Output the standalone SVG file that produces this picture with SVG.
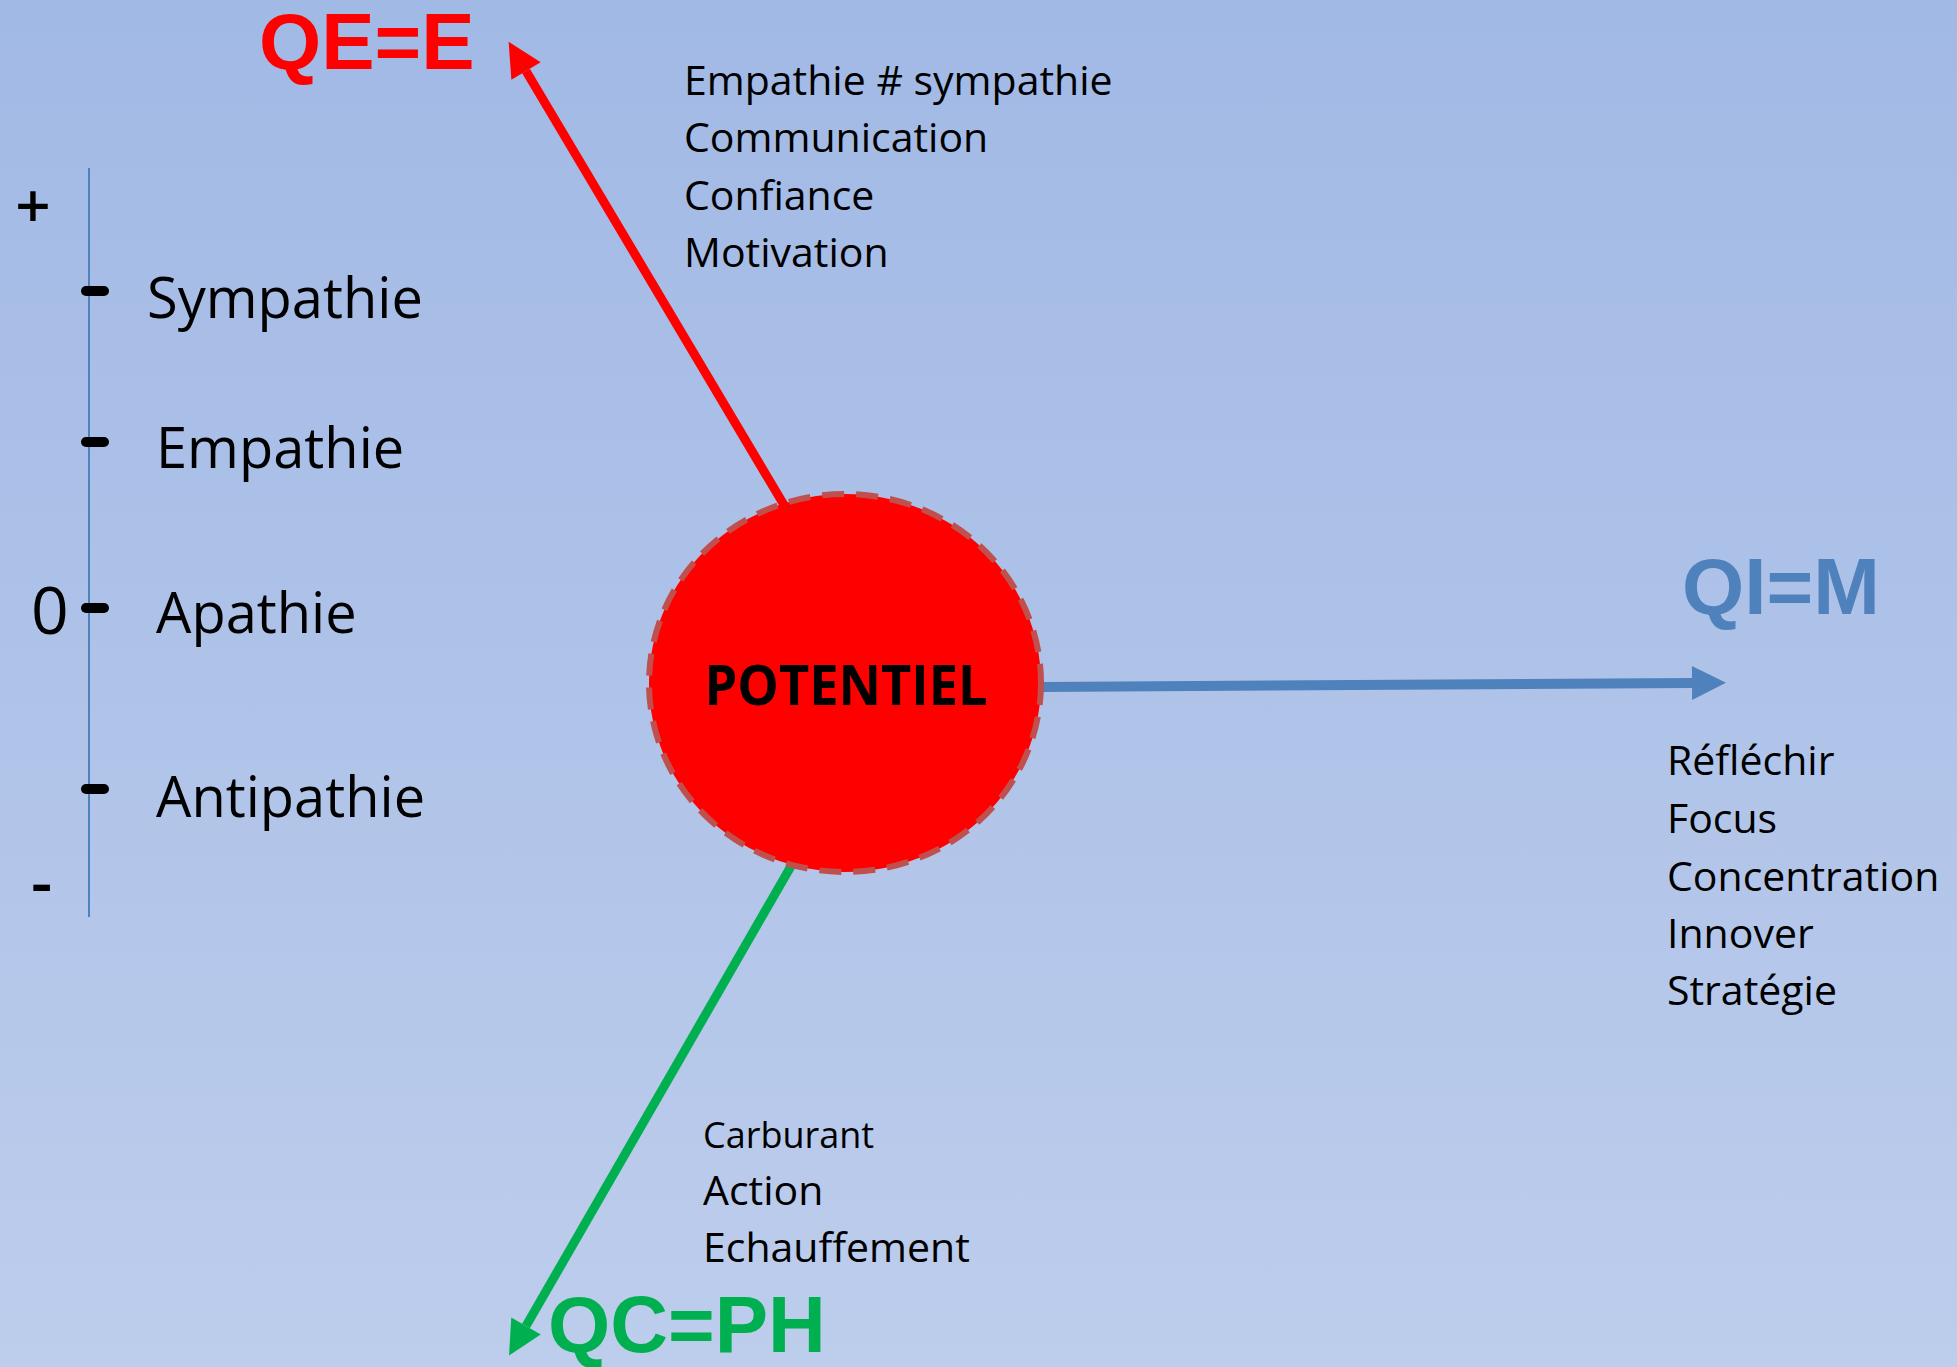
<svg xmlns="http://www.w3.org/2000/svg" width="1957" height="1367" viewBox="0 0 1957 1367">
  <defs>
    <linearGradient id="bg" x1="0" y1="0" x2="0" y2="1">
      <stop offset="0" stop-color="#A1B9E5"/>
      <stop offset="1" stop-color="#BDCDEC"/>
    </linearGradient>
    <marker id="headRed" markerUnits="userSpaceOnUse" markerWidth="36" markerHeight="36" refX="0" refY="17" orient="auto" overflow="visible">
      <path d="M0,0 L34,17 L0,34 Z" fill="#FF0000"/>
    </marker>
    <marker id="headGreen" markerUnits="userSpaceOnUse" markerWidth="36" markerHeight="36" refX="0" refY="17" orient="auto" overflow="visible">
      <path d="M0,0 L34,17 L0,34 Z" fill="#00B050"/>
    </marker>
    <marker id="headBlue" markerUnits="userSpaceOnUse" markerWidth="36" markerHeight="36" refX="0" refY="17" orient="auto" overflow="visible">
      <path d="M0,0 L34,17 L0,34 Z" fill="#4F81BD"/>
    </marker>
  </defs>
  <style>
    .t { font-family: "Open Sans", "Noto Sans", sans-serif; fill: #000; }
    .list { font-size: 41px; }
    .scale { font-size: 56px; }
    .big { font-family: "Liberation Sans", Arial, sans-serif; font-weight: bold; font-size: 80px; }
    .tick { stroke: #000; stroke-width: 10; stroke-linecap: round; }
  </style>
  <rect x="0" y="0" width="1957" height="1367" fill="url(#bg)"/>

  <g id="connectors" fill="none">
    <line id="arrow-qe" x1="784" y1="505" x2="526" y2="71" stroke="#FF0000" stroke-width="9" marker-end="url(#headRed)"/>
    <line id="arrow-qc" x1="794" y1="861" x2="526" y2="1326" stroke="#00B050" stroke-width="9" marker-end="url(#headGreen)"/>
    <line id="arrow-qi" x1="1042" y1="687" x2="1692" y2="683" stroke="#4F81BD" stroke-width="10" marker-end="url(#headBlue)"/>
  </g>

  <g id="node-potentiel">
    <ellipse cx="845" cy="683" rx="196" ry="189" fill="#FF0000" stroke="#C0504D" stroke-width="6" stroke-dasharray="22 12"/>
    <text class="t" x="846" y="705" text-anchor="middle" font-weight="bold" font-size="56" textLength="283" lengthAdjust="spacingAndGlyphs">POTENTIEL</text>
  </g>

  <g id="node-qe">
    <text class="big" x="259" y="69" fill="#FF0000">QE=E</text>
  </g>
  <g id="node-qi">
    <text class="big" x="1682" y="614" fill="#4F81BD">QI=M</text>
  </g>
  <g id="node-qc">
    <text class="big" x="548" y="1352" fill="#00B050">QC=PH</text>
  </g>

  <g id="list-qe">
    <text class="t list" x="684" y="95">Empathie # sympathie</text>
    <text class="t list" x="684" y="152">Communication</text>
    <text class="t list" x="684" y="210">Confiance</text>
    <text class="t list" x="684" y="267">Motivation</text>
  </g>

  <g id="list-qi">
    <text class="t list" x="1667" y="775">Réfléchir</text>
    <text class="t list" x="1667" y="833">Focus</text>
    <text class="t list" x="1667" y="891">Concentration</text>
    <text class="t list" x="1667" y="948">Innover</text>
    <text class="t list" x="1667" y="1005">Stratégie</text>
  </g>

  <g id="list-qc">
    <text class="t" x="703" y="1148" font-size="36">Carburant</text>
    <text class="t list" x="703" y="1205">Action</text>
    <text class="t list" x="703" y="1262">Echauffement</text>
  </g>

  <g id="scale">
    <line x1="89" y1="168" x2="89" y2="917" stroke="#4F81BD" stroke-width="2"/>
    <line class="tick" x1="86" y1="291" x2="104" y2="291"/>
    <line class="tick" x1="86" y1="442" x2="104" y2="442"/>
    <line class="tick" x1="86" y1="608" x2="104" y2="608"/>
    <line class="tick" x1="86" y1="789" x2="104" y2="789"/>
    <text class="t" x="33" y="228" font-size="62" font-weight="600" text-anchor="middle">+</text>
    <text class="t" x="31" y="634" font-size="66">0</text>
    <text class="t" x="31" y="905" font-size="66" font-weight="600">-</text>
    <text class="t scale" x="147" y="318">Sympathie</text>
    <text class="t scale" x="156" y="468">Empathie</text>
    <text class="t scale" x="156" y="633">Apathie</text>
    <text class="t scale" x="156" y="817">Antipathie</text>
  </g>
</svg>
